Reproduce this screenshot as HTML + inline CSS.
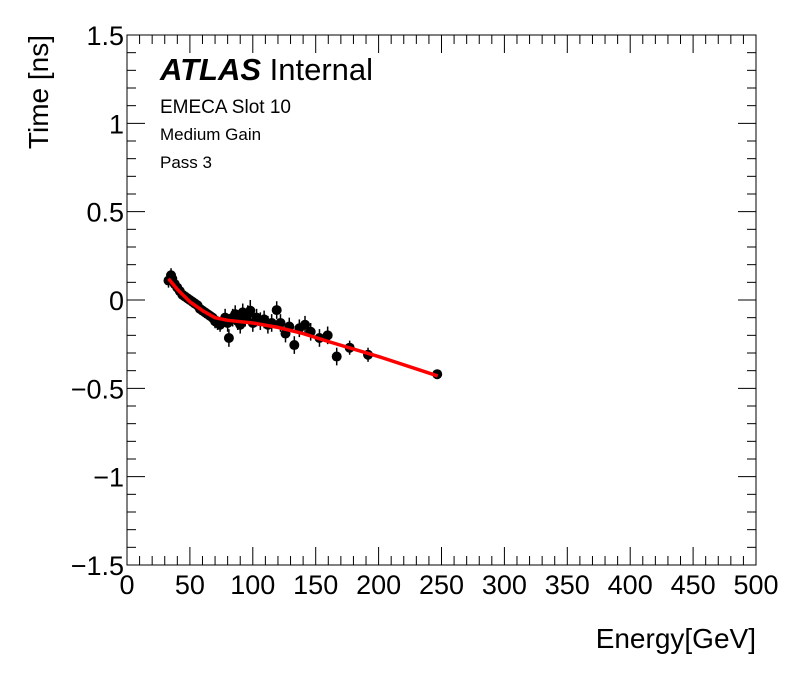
<!DOCTYPE html>
<html><head><meta charset="utf-8"><style>
body{margin:0;background:#fff;}
svg text{font-family:"Liberation Sans",Arial,sans-serif;}
</style></head><body>
<svg id="chart" width="796" height="672" xmlns="http://www.w3.org/2000/svg">
<rect width="796" height="672" fill="#fff"/>
<g id="axes"></g>
<g id="fit"></g>
<g id="pts"></g>
<rect x="127" y="35" width="629" height="530" fill="none" stroke="#000" stroke-width="1"/>
<text x="160" y="80" font-size="31" font-weight="bold" font-style="italic">ATLAS <tspan font-weight="normal" font-style="normal">Internal</tspan></text>
<text x="160" y="113" font-size="19">EMECA Slot 10</text>
<text x="160" y="140" font-size="17">Medium Gain</text>
<text x="160" y="168" font-size="17">Pass 3</text>
<text x="756" y="648" font-size="28" text-anchor="end">Energy[GeV]</text>
<text transform="translate(48,35) rotate(-90)" font-size="28" text-anchor="end">Time [ns]</text>
</svg>
<script>
const energies=[33,35,36,38,40,42,44,46,48,50,52,54,56,58,60,62,64,66,68,70,72,74,76,78,80,81,84,86,88,90,92,94,96,98,100,103,106,109,112,115,119,122,126,129,133,137,141.5,146,153,159.5,166.7,177,191.6,246.6];
const times=[0.11,0.14,0.12,0.09,0.07,0.05,0.03,0.02,0.01,0.0,-0.01,-0.02,-0.03,-0.05,-0.06,-0.07,-0.08,-0.09,-0.10,-0.12,-0.13,-0.14,-0.12,-0.10,-0.13,-0.215,-0.10,-0.08,-0.12,-0.14,-0.07,-0.10,-0.08,-0.06,-0.13,-0.10,-0.12,-0.11,-0.14,-0.13,-0.057,-0.13,-0.19,-0.15,-0.255,-0.16,-0.14,-0.18,-0.215,-0.20,-0.32,-0.27,-0.31,-0.42];
const errors=[0.04,0.04,0.03,0.03,0.03,0.03,0.03,0.03,0.03,0.03,0.03,0.03,0.03,0.03,0.03,0.03,0.03,0.03,0.03,0.04,0.04,0.04,0.04,0.05,0.05,0.05,0.05,0.05,0.05,0.05,0.05,0.05,0.05,0.06,0.05,0.05,0.05,0.05,0.05,0.05,0.05,0.05,0.05,0.05,0.05,0.05,0.05,0.05,0.05,0.05,0.05,0.04,0.04,0.02];
const fitE=[33,40,50,60,70,80,100,120,140,160,200,247];
const fitT=[0.12,0.06,-0.01,-0.06,-0.10,-0.115,-0.13,-0.155,-0.19,-0.235,-0.32,-0.43];
const xTicks=[0,50,100,150,200,250,300,350,400,450,500];
const yTicks=[-1.5,-1,-0.5,0,0.5,1,1.5];
const yTickLabels=["\u22121.5","\u22121","\u22120.5","0","0.5","1","1.5"];
const X0=127,X1=756,Y0=565,Y1=35;
const sx=v=>X0+(v-0)/500*(X1-X0);
const sy=v=>Y0-(v+1.5)/3*(Y0-Y1);
const NS="http://www.w3.org/2000/svg";
function mk(t,a,p){const e=document.createElementNS(NS,t);for(const k in a)e.setAttribute(k,a[k]);p.appendChild(e);return e;}
const ax=document.getElementById('axes');
for(let v=0;v<=500;v+=10){const maj=v%50===0;const L=maj?18:9;
 const l1=mk('line',{x1:sx(v),x2:sx(v),y1:Y0,y2:Y0-L,stroke:'#000'},ax);
 
 
 const l2=mk('line',{x1:sx(v),x2:sx(v),y1:Y1,y2:Y1+L,stroke:'#000'},ax);
 
 }
for(let i=0;i<=30;i++){const v=-1.5+i*0.1;const maj=i%5===0;const L=maj?18:9;
 const l1=mk('line',{x1:X0,x2:X0+L,y1:sy(v),y2:sy(v),stroke:'#000'},ax);
 
 
 const l2=mk('line',{x1:X1,x2:X1-L,y1:sy(v),y2:sy(v),stroke:'#000'},ax);
 
 }
xTicks.forEach(v=>{const t=mk('text',{x:sx(v),y:594,'font-size':27,'text-anchor':'middle'},ax);t.textContent=v;
 
 });
yTicks.forEach((v,i)=>{const t=mk('text',{x:124,y:sy(v)+10,'font-size':27,'text-anchor':'end'},ax);t.textContent=yTickLabels[i];
 
 });
const pg=document.getElementById('pts');
energies.forEach((e,i)=>{const g=mk('g',{},pg);
 
 
 mk('line',{x1:sx(e),x2:sx(e),y1:sy(times[i]-errors[i]),y2:sy(times[i]+errors[i]),stroke:'#000','stroke-width':1.5},g);
 mk('circle',{cx:sx(e),cy:sy(times[i]),r:5,fill:'#000'},g);});
const p=mk('polyline',{points:fitE.map((e,i)=>sx(e)+','+sy(fitT[i])).join(' '),fill:'none',stroke:'#ff0000','stroke-width':3.5,'stroke-linejoin':'round'},pg);


</script>
</body></html>
